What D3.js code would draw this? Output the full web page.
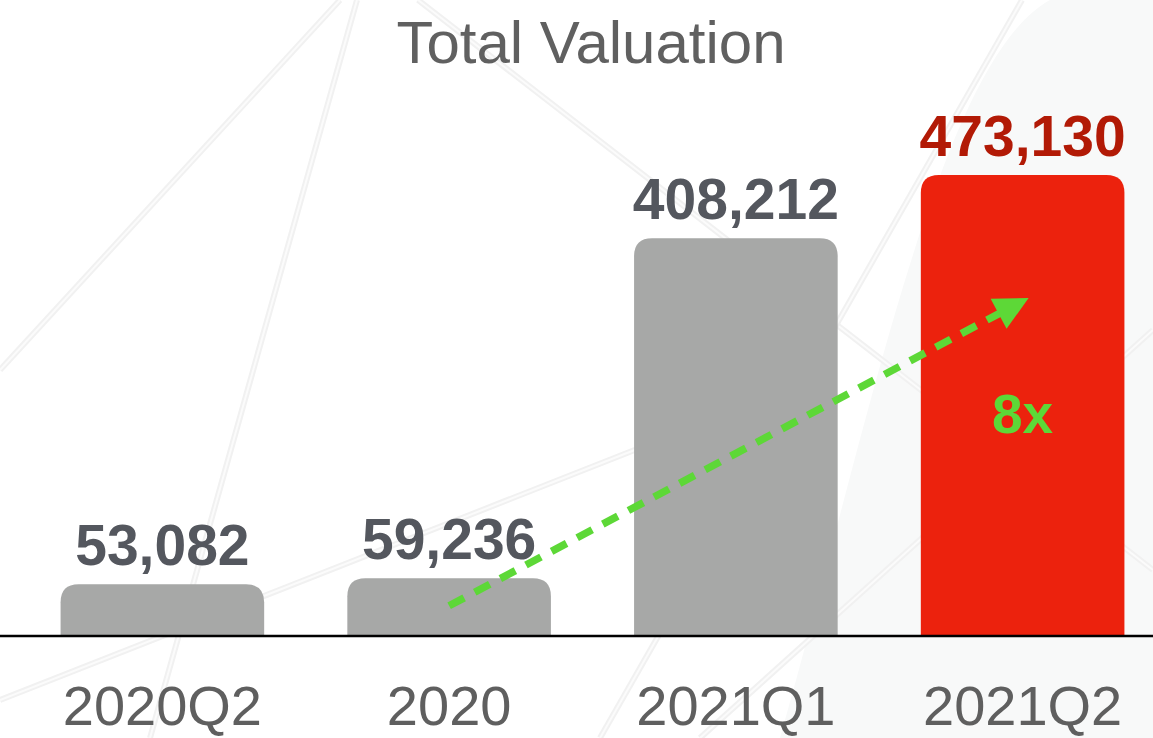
<!DOCTYPE html>
<html>
<head>
<meta charset="utf-8">
<script src="https://cdn.jsdelivr.net/npm/d3@7"></script>
<style>
    html, body { margin: 0; padding: 0; background: #ffffff; }
    svg { display: block; }
    text { font-family: "Liberation Sans", Arial, Helvetica, sans-serif; }
</style>
</head>
<body>
<svg id="chart"></svg>
<script>
// ======================
// DATA
// ======================

const categories = ["2020Q2", "2020", "2021Q1", "2021Q2"];
const values = [53082, 59236, 408212, 473130];
const highlightCategory = "2021Q2";
const chartTitle = "Total Valuation";

// growth annotation, in data terms (category + value)
const arrowFrom = { category: "2020", value: 31000 };
const arrowTo = { category: "2021Q2", value: 347000 };
const growthLabel = { category: "2021Q2", value: 208000, text: "8x" };

// ======================
// SETUP
// ======================

const width = 1153;
const height = 738;
const baselineY = 636;
const topY = 175;

const svg = d3.select("#chart")
    .attr("width", width)
    .attr("height", height)
    .attr("viewBox", `0 0 ${width} ${height}`);

// faint decorative background (texture of the slide)
const bg = svg.append("g").attr("class", "background");

bg.append("path")
    .attr("d", "M780,738 C870,420 940,60 1050,0 L1153,0 L1153,738 Z")
    .attr("fill", "#f8f9f9");

const bgLines = [
    [[0, 370], [340, 0]],
    [[357, 0], [150, 738]],
    [[418, 0], [1153, 570]],
    [[0, 700], [660, 440]],
    [[1022, 0], [600, 738]],
    [[1153, 330], [700, 738]]
];
bgLines.forEach(pts => {
    bg.append("path")
        .attr("d", d3.line()(pts))
        .attr("stroke", "#f1f1f1")
        .attr("stroke-width", 6)
        .attr("fill", "none");
    bg.append("path")
        .attr("d", d3.line()(pts))
        .attr("stroke", "#fbfbfb")
        .attr("stroke-width", 2)
        .attr("fill", "none");
});

// ======================
// SCALES
// ======================

const x = d3.scaleBand()
    .domain(categories)
    .range([19, 1166])
    .paddingInner(0.29)
    .paddingOuter(0.145);

const y = d3.scaleLinear()
    .domain([0, d3.max(values)])
    .range([baselineY, topY]);

const data = categories.map((c, i) => ({ category: c, value: values[i] }));

// bar with rounded top corners only
function topRoundedBar(x0, y0, w, h, r) {
    r = Math.min(r, h, w / 2);
    return `M${x0},${y0 + h}` +
        `V${y0 + r}` +
        `Q${x0},${y0} ${x0 + r},${y0}` +
        `H${x0 + w - r}` +
        `Q${x0 + w},${y0} ${x0 + w},${y0 + r}` +
        `V${y0 + h}Z`;
}

// ======================
// TITLE
// ======================

svg.append("text")
    .attr("x", 591)
    .attr("y", 63)
    .attr("text-anchor", "middle")
    .attr("font-size", 60)
    .attr("font-weight", 300)
    .attr("fill", "#606060")
    .text(chartTitle);

// ======================
// BARS
// ======================

svg.append("g")
    .selectAll("path.bar")
    .data(data)
    .enter()
    .append("path")
    .attr("class", "bar")
    .attr("d", d => topRoundedBar(
        x(d.category), y(d.value), x.bandwidth(), baselineY - y(d.value), 18))
    .attr("fill", d => d.category === highlightCategory ? "#ec220d" : "#a7a8a7");

// value labels
svg.append("g")
    .selectAll("text.value")
    .data(data)
    .enter()
    .append("text")
    .attr("class", "value")
    .attr("x", d => x(d.category) + x.bandwidth() / 2)
    .attr("y", d => y(d.value) - 19)
    .attr("text-anchor", "middle")
    .attr("font-size", 57)
    .attr("font-weight", "bold")
    .attr("fill", d => d.category === highlightCategory ? "#b21a06" : "#54575e")
    .text(d => d3.format(",")(d.value));

// baseline
svg.append("line")
    .attr("x1", 0)
    .attr("x2", width)
    .attr("y1", baselineY)
    .attr("y2", baselineY)
    .attr("stroke", "#000")
    .attr("stroke-width", 2.5);

// category labels
const xAxis = d3.axisBottom(x).tickSize(0).tickPadding(0);
const xAxisG = svg.append("g")
    .attr("transform", `translate(0,${baselineY})`)
    .call(xAxis);
xAxisG.select(".domain").remove();
xAxisG.selectAll("text")
    .attr("y", 89)
    .attr("dy", 0)
    .attr("font-size", 56)
    .attr("font-family", "'Liberation Sans', Arial, Helvetica, sans-serif")
    .attr("fill", "#5f5f5f");

// ======================
// GROWTH ARROW
// ======================

const green = "#5dd837";
const ax0 = x(arrowFrom.category) + x.bandwidth() / 2;
const ay0 = y(arrowFrom.value);
const ax1 = x(arrowTo.category) + x.bandwidth() / 2 + 6;
const ay1 = y(arrowTo.value);
const ang = Math.atan2(ay1 - ay0, ax1 - ax0);
const headLen = 34;
const headHalf = 17;

// shaft stops where head begins
svg.append("line")
    .attr("x1", ax0)
    .attr("y1", ay0)
    .attr("x2", ax1 - (headLen - 4) * Math.cos(ang))
    .attr("y2", ay1 - (headLen - 4) * Math.sin(ang))
    .attr("stroke", green)
    .attr("stroke-width", 7.5)
    .attr("stroke-dasharray", "17,12");

const bx = ax1 - headLen * Math.cos(ang);
const by = ay1 - headLen * Math.sin(ang);
svg.append("path")
    .attr("d", d3.line()([
        [ax1, ay1],
        [bx + headHalf * Math.sin(ang), by - headHalf * Math.cos(ang)],
        [bx - headHalf * Math.sin(ang), by + headHalf * Math.cos(ang)]
    ]) + "Z")
    .attr("fill", green);

svg.append("text")
    .attr("x", x(growthLabel.category) + x.bandwidth() / 2)
    .attr("y", y(growthLabel.value))
    .attr("text-anchor", "middle")
    .attr("font-size", 55)
    .attr("font-weight", "bold")
    .attr("fill", green)
    .text(growthLabel.text);
</script>
</body>
</html>
